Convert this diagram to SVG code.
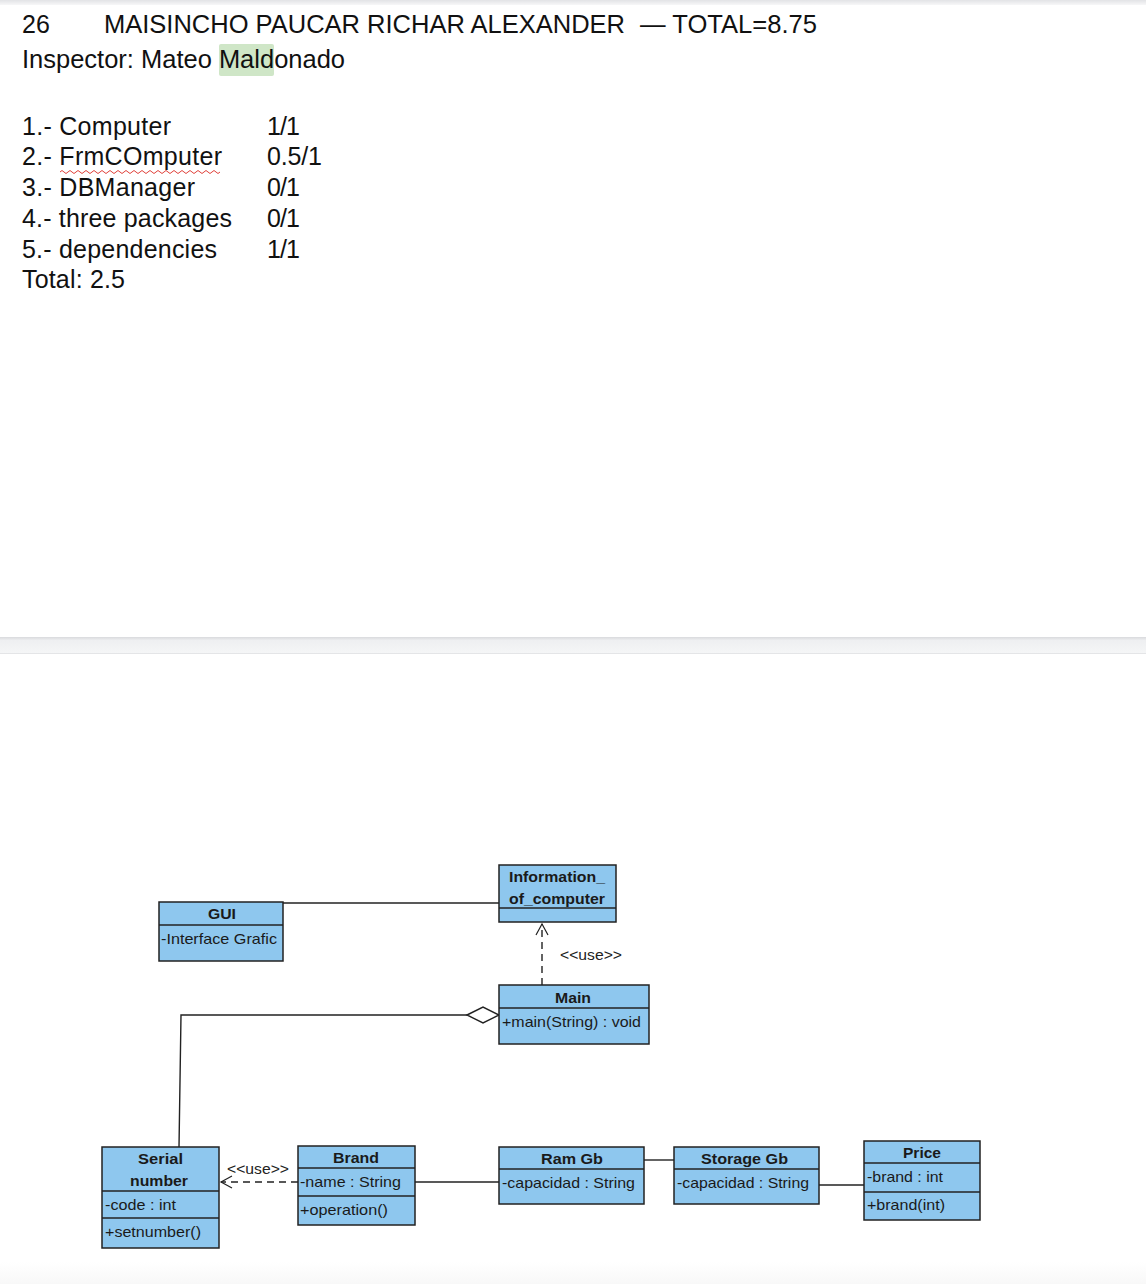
<svg xmlns="http://www.w3.org/2000/svg" width="1146" height="1284" viewBox="0 0 1146 1284">
  <defs>
    <linearGradient id="topBar" x1="0" y1="0" x2="0" y2="1">
      <stop offset="0" stop-color="#e2e3e6"/>
      <stop offset="1" stop-color="#f7f7f8"/>
    </linearGradient>
    <linearGradient id="gapBar" x1="0" y1="0" x2="0" y2="1">
      <stop offset="0" stop-color="#d9dadd"/>
      <stop offset="0.2" stop-color="#eeeff1"/>
      <stop offset="1" stop-color="#f5f6f7"/>
    </linearGradient>
    <linearGradient id="bottomBar" x1="0" y1="0" x2="0" y2="1">
      <stop offset="0" stop-color="#ffffff"/>
      <stop offset="1" stop-color="#f8f8f8"/>
    </linearGradient>
    <marker id="openArrow" markerWidth="14" markerHeight="14" refX="12" refY="7" orient="auto" markerUnits="userSpaceOnUse">
      <path d="M1,1 L12,7 L1,13" fill="none" stroke="#222" stroke-width="1.2"/>
    </marker>
  </defs>
  <style>
    .doc { font-family: "Liberation Sans", Arial, sans-serif; font-size: 25px; fill: #111; }
    .box { fill: #8ec7ee; stroke: #222; stroke-width: 1.5; }
    .div { stroke: #222; stroke-width: 1.3; }
    .hdr { font-family: "Liberation Sans", Arial, sans-serif; font-size: 15px; font-weight: bold; fill: #1a1a1a; }
    .attr { font-family: "Liberation Sans", Arial, sans-serif; font-size: 15px; fill: #1a1a1a; }
    .lbl { font-family: "Liberation Sans", Arial, sans-serif; font-size: 14px; fill: #222; }
    .edge { fill: none; stroke: #222; stroke-width: 1.4; }
    .dash { fill: none; stroke: #222; stroke-width: 1.4; stroke-dasharray: 7 5; }
  </style>

  <rect width="1146" height="1284" fill="#ffffff"/>
  <rect x="0" y="0" width="1146" height="5" fill="url(#topBar)"/>

  <!-- header block -->
  <rect x="219" y="44" width="55" height="32" rx="2" fill="#cfe6c7"/>
  <text class="doc" x="22" y="33" font-size="24">26</text>
  <text class="doc" x="104" y="33" textLength="521" lengthAdjust="spacingAndGlyphs">MAISINCHO PAUCAR RICHAR ALEXANDER</text>
  <text class="doc" x="640" y="33" textLength="177" lengthAdjust="spacingAndGlyphs">— TOTAL=8.75</text>
  <text class="doc" x="22" y="68" textLength="323" lengthAdjust="spacingAndGlyphs">Inspector: Mateo Maldonado</text>

  <!-- grading list -->
  <g class="doc" lengthAdjust="spacingAndGlyphs">
    <text x="22" y="135" textLength="149">1.- Computer</text>
    <text x="267" y="135" textLength="33">1/1</text>
    <text x="22" y="165" textLength="200">2.- FrmCOmputer</text>
    <text x="267" y="165" textLength="55">0.5/1</text>
    <text x="22" y="196" textLength="173">3.- DBManager</text>
    <text x="267" y="196" textLength="33">0/1</text>
    <text x="22" y="227" textLength="210">4.- three packages</text>
    <text x="267" y="227" textLength="33">0/1</text>
    <text x="22" y="258" textLength="195">5.- dependencies</text>
    <text x="267" y="258" textLength="33">1/1</text>
    <text x="22" y="288" textLength="103">Total: 2.5</text>
  </g>
  <path d="M60,172 q2,-3 4,0 t4,0 t4,0 t4,0 t4,0 t4,0 t4,0 t4,0 t4,0 t4,0 t4,0 t4,0 t4,0 t4,0 t4,0 t4,0 t4,0 t4,0 t4,0 t4,0 t4,0 t4,0 t4,0 t4,0 t4,0 t4,0 t4,0 t4,0 t4,0 t4,0 t4,0 t4,0 t4,0 t4,0 t4,0 t4,0 t4,0 t4,0 t4,0 t4,0" fill="none" stroke="#e0413a" stroke-width="1"/>

  <!-- page gap -->
  <rect x="0" y="637" width="1146" height="17" fill="url(#gapBar)"/>
  <line x1="0" y1="653.5" x2="1146" y2="653.5" stroke="#e4e5e7" stroke-width="1"/>

  <!-- connectors -->
  <g id="connectors">
    <line class="edge" x1="282" y1="903" x2="499" y2="903"/>
    <line class="dash" x1="542" y1="985" x2="542" y2="924" marker-end="url(#openArrow)"/>
    <text class="lbl" x="560" y="960" textLength="62" lengthAdjust="spacingAndGlyphs">&lt;&lt;use&gt;&gt;</text>
    <polyline class="edge" points="179,1147 181,1015 467,1015"/>
    <polygon points="467,1015 483,1007 499,1015 483,1023" fill="#ffffff" stroke="#222" stroke-width="1.4"/>
    <line class="dash" x1="298" y1="1182" x2="221" y2="1182" marker-end="url(#openArrow)"/>
    <text class="lbl" x="227" y="1174" textLength="62" lengthAdjust="spacingAndGlyphs">&lt;&lt;use&gt;&gt;</text>
    <line class="edge" x1="415" y1="1182" x2="499" y2="1182"/>
    <line class="edge" x1="644" y1="1160" x2="674" y2="1160"/>
    <line class="edge" x1="819" y1="1185" x2="864" y2="1185"/>
  </g>

  <!-- classes -->
  <g id="gui">
    <rect class="box" x="159" y="902" width="124" height="59"/>
    <line class="div" x1="159" y1="925" x2="283" y2="925"/>
    <text class="hdr" x="208" y="919" textLength="28" lengthAdjust="spacingAndGlyphs">GUI</text>
    <text class="attr" x="161" y="944" textLength="116" lengthAdjust="spacingAndGlyphs">-Interface Grafic</text>
  </g>

  <g id="information_of_computer">
    <rect class="box" x="499" y="865" width="117" height="57"/>
    <line class="div" x1="499" y1="908" x2="616" y2="908"/>
    <text class="hdr" x="509" y="882" textLength="96" lengthAdjust="spacingAndGlyphs">Information_</text>
    <text class="hdr" x="509" y="904" textLength="96" lengthAdjust="spacingAndGlyphs">of_computer</text>
  </g>

  <g id="main">
    <rect class="box" x="499" y="985" width="150" height="59"/>
    <line class="div" x1="499" y1="1008" x2="649" y2="1008"/>
    <text class="hdr" x="555" y="1003" textLength="36" lengthAdjust="spacingAndGlyphs">Main</text>
    <text class="attr" x="502" y="1027" textLength="139" lengthAdjust="spacingAndGlyphs">+main(String) : void</text>
  </g>

  <g id="serial_number">
    <rect class="box" x="102" y="1147" width="117" height="101"/>
    <line class="div" x1="102" y1="1191" x2="219" y2="1191"/>
    <line class="div" x1="102" y1="1218" x2="219" y2="1218"/>
    <text class="hdr" x="138" y="1164" textLength="45" lengthAdjust="spacingAndGlyphs">Serial</text>
    <text class="hdr" x="130" y="1186" textLength="58" lengthAdjust="spacingAndGlyphs">number</text>
    <text class="attr" x="105" y="1210" textLength="71" lengthAdjust="spacingAndGlyphs">-code : int</text>
    <text class="attr" x="105" y="1237" textLength="96" lengthAdjust="spacingAndGlyphs">+setnumber()</text>
  </g>

  <g id="brand">
    <rect class="box" x="298" y="1146" width="117" height="79"/>
    <line class="div" x1="298" y1="1168" x2="415" y2="1168"/>
    <line class="div" x1="298" y1="1196" x2="415" y2="1196"/>
    <text class="hdr" x="333" y="1163" textLength="46" lengthAdjust="spacingAndGlyphs">Brand</text>
    <text class="attr" x="300" y="1187" textLength="101" lengthAdjust="spacingAndGlyphs">-name : String</text>
    <text class="attr" x="300" y="1215" textLength="88" lengthAdjust="spacingAndGlyphs">+operation()</text>
  </g>

  <g id="ram_gb">
    <rect class="box" x="499" y="1147" width="145" height="57"/>
    <line class="div" x1="499" y1="1169" x2="644" y2="1169"/>
    <text class="hdr" x="541" y="1164" textLength="62" lengthAdjust="spacingAndGlyphs">Ram Gb</text>
    <text class="attr" x="502" y="1188" textLength="133" lengthAdjust="spacingAndGlyphs">-capacidad : String</text>
  </g>

  <g id="storage_gb">
    <rect class="box" x="674" y="1147" width="145" height="57"/>
    <line class="div" x1="674" y1="1169" x2="819" y2="1169"/>
    <text class="hdr" x="701" y="1164" textLength="87" lengthAdjust="spacingAndGlyphs">Storage Gb</text>
    <text class="attr" x="677" y="1188" textLength="132" lengthAdjust="spacingAndGlyphs">-capacidad : String</text>
  </g>

  <g id="price">
    <rect class="box" x="864" y="1141" width="116" height="79"/>
    <line class="div" x1="864" y1="1163" x2="980" y2="1163"/>
    <line class="div" x1="864" y1="1192" x2="980" y2="1192"/>
    <text class="hdr" x="903" y="1158" textLength="38" lengthAdjust="spacingAndGlyphs">Price</text>
    <text class="attr" x="867" y="1182" textLength="76" lengthAdjust="spacingAndGlyphs">-brand : int</text>
    <text class="attr" x="867" y="1210" textLength="78" lengthAdjust="spacingAndGlyphs">+brand(int)</text>
  </g>

  <rect x="0" y="1262" width="1146" height="22" fill="url(#bottomBar)"/>
</svg>
